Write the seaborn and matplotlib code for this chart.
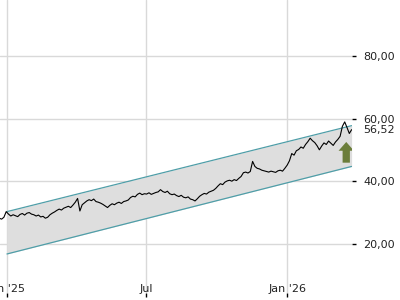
import matplotlib
matplotlib.use("Agg")
import matplotlib.pyplot as plt
import matplotlib.dates as mdates
import matplotlib.transforms as mtransforms
from matplotlib.patches import FancyArrow
import numpy as np
import pandas as pd
import seaborn as sns

# ---- data ----
price_start = "2024-12-22"
price_values = [
    28.3, 28.0, 28.6, 30.4, 29.6,
    29.0, 29.4, 29.1, 28.8, 29.5,
    29.8, 29.3, 29.9, 30.1, 29.6,
    29.4, 29.0, 29.3, 28.7, 28.9,
    28.3, 28.6, 29.4, 29.9, 30.3,
    30.8, 31.2, 30.9, 31.5, 31.8,
    32.1, 31.7, 32.5, 33.4, 34.6,
    30.6, 32.6, 33.2, 33.8, 34.2,
    33.9, 34.4, 33.6, 33.4, 33.1,
    32.7, 32.2, 31.7, 32.4, 32.9,
    32.6, 33.1, 33.4, 33.0, 33.6,
    33.8, 34.1, 34.9, 35.3, 35.1,
    35.9, 36.3, 35.8, 36.1, 36.0,
    36.4, 35.9, 36.2, 36.5, 36.7,
    37.4, 36.8, 36.5, 36.9, 36.1,
    35.8, 36.0, 35.5, 35.2, 35.6,
    35.0, 34.8, 35.1, 34.4, 34.2,
    33.8, 34.5, 35.3, 35.8, 36.2,
    36.0, 36.6, 36.9, 37.2, 37.8,
    38.6, 39.3, 39.0, 39.8, 40.2,
    40.4, 40.1, 40.6, 40.3, 41.0,
    41.6, 42.8, 43.0, 42.7, 43.2,
    46.4, 44.8, 44.2, 44.0, 43.6,
    43.4, 43.2, 43.0, 43.3, 43.1,
    42.9, 43.4, 43.6, 43.3, 44.2,
    45.2, 46.6, 48.9, 48.4, 49.8,
    50.2, 51.0, 50.6, 51.8, 52.7,
    53.8, 53.0, 52.4, 51.4, 50.1,
    51.3, 52.3, 51.8, 52.9, 52.2,
    51.5, 52.6, 53.4, 54.4, 57.6,
    59.0, 57.2, 55.3, 56.52,
]
last_price = 56.52
last_price_label = "56,52"

channel_dates = ["2025-01-01", "2026-03-26"]
channel_upper = [30.4, 57.8]
channel_lower = [16.9, 44.8]

y_ticks = [20, 40, 60, 80]
y_tick_labels = ["20,00", "40,00", "60,00", "80,00"]
x_ticks = ["2025-01-01", "2025-07-01", "2026-01-01"]
x_tick_labels = ["Jan '25", "Jul", "Jan '26"]

# ---- build frames ----
price_df = pd.DataFrame({
    "date": pd.date_range(price_start, periods=len(price_values), freq="3D"),
    "price": price_values,
})
chan_df = pd.DataFrame({
    "date": pd.to_datetime(channel_dates),
    "upper": channel_upper,
    "lower": channel_lower,
})

sns.set_style("white")
plt.rcParams["font.family"] = ["DejaVu Sans"]

fig = plt.figure(figsize=(4, 3), dpi=100)
ax = fig.add_axes([0.0, 7 / 300, 352 / 400, 293 / 300])

grid_c = "#d9d9d9"
teal = "#4f9ea8"

# channel
ax.fill_between(chan_df["date"], chan_df["lower"], chan_df["upper"],
                color="#dedede", lw=0, zorder=1)
sns.lineplot(data=chan_df, x="date", y="upper", ax=ax, color=teal, lw=0.9, zorder=2)
sns.lineplot(data=chan_df, x="date", y="lower", ax=ax, color=teal, lw=0.9, zorder=2)

# price
sns.lineplot(data=price_df, x="date", y="price", ax=ax, color="black", lw=0.8, zorder=3)

# signal arrow (anchored near the last data point)
ax_x = mdates.date2num(price_df["date"].iloc[-1]) - 7
arrow = FancyArrow(ax_x, 46.0, 0, 6.6, width=9.5, head_width=20,
                   head_length=2.8, length_includes_head=True,
                   color="#6b7d3a", lw=0, zorder=4)
ax.add_patch(arrow)

# axes limits
ax.set_xlim(pd.Timestamp("2024-12-22 22:00"), pd.Timestamp("2026-03-26 12:00"))
ax.set_ylim(4.46, 97.85)

# ticks
ax.yaxis.tick_right()
ax.set_yticks(y_ticks)
ax.set_yticklabels(y_tick_labels)
ax.set_xticks(pd.to_datetime(x_ticks))
ax.set_xticklabels(x_tick_labels)
ax.tick_params(axis="y", which="both", right=True, left=False, length=3, width=1,
               color="black", pad=5, labelsize=8, labelcolor="#222222")
ax.tick_params(axis="x", which="both", bottom=True, length=3, width=1,
               color="black", pad=-9.8, labelsize=8, labelcolor="#222222",
               direction="out")

ax.set_xlabel("")
ax.set_ylabel("")
ax.grid(True, color=grid_c, lw=1.0, zorder=0)
ax.set_axisbelow(True)
for s in ax.spines.values():
    s.set_visible(False)

# last price label
trans = mtransforms.blended_transform_factory(ax.transAxes, ax.transData)
ax.text(1 + 11 / 352, last_price, last_price_label, transform=trans,
        ha="left", va="center", fontsize=8, color="#222222")

fig.savefig("out.png", dpi=100)
